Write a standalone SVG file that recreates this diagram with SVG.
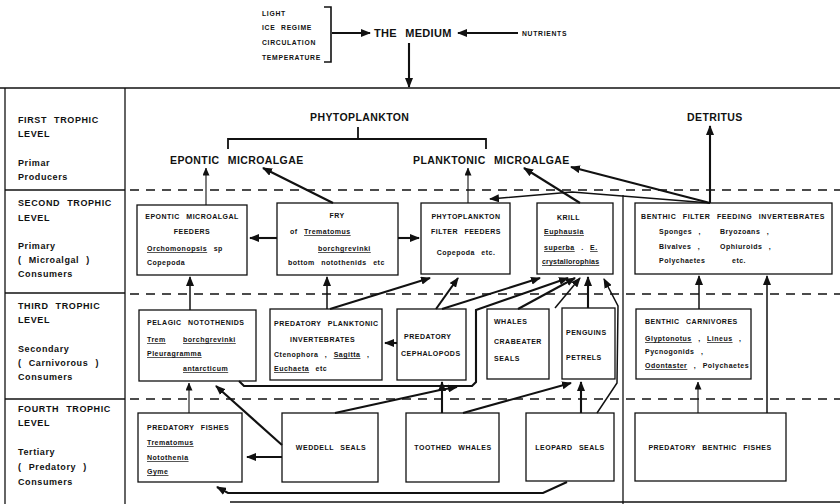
<svg xmlns="http://www.w3.org/2000/svg" width="840" height="504" viewBox="0 0 840 504">
<style>
text{font-family:"Liberation Sans",Arial,sans-serif;font-weight:bold;fill:#111}
.lv{font-size:9px;letter-spacing:0.6px;word-spacing:4px}
.bx{font-size:7px;letter-spacing:0.5px;word-spacing:4px}
.big{font-size:10.5px;letter-spacing:0.4px;word-spacing:5px}
.sm{font-size:6.8px;letter-spacing:0.7px}
.u{text-decoration:underline}
.c{text-anchor:middle}
rect{fill:#fff;stroke:#111;stroke-width:1.3}
.frame{stroke:#111;stroke-width:1.3;fill:none}
.dash{stroke:#111;stroke-width:1.4;stroke-dasharray:9 7;fill:none}
.t{stroke:#111;stroke-width:2.1;fill:none;marker-end:url(#ah)}
.m{stroke:#111;stroke-width:1.5;fill:none;marker-end:url(#ah)}
.n{stroke:#111;stroke-width:1.1;fill:none;marker-end:url(#ahs)}
.p{stroke:#111;stroke-width:1.6;fill:none}
</style>
<defs>
<marker id="ah" markerUnits="userSpaceOnUse" markerWidth="10" markerHeight="8" refX="9" refY="4" orient="auto"><path d="M0,0 L10,4 L0,8 Z" fill="#111"/></marker>
<marker id="ahs" markerUnits="userSpaceOnUse" markerWidth="8" markerHeight="7" refX="7.5" refY="3.5" orient="auto"><path d="M0,0 L8,3.5 L0,7 Z" fill="#111"/></marker>
</defs>

<g id="frame">
<line class="frame" x1="0" y1="88" x2="840" y2="88"/>
<line class="frame" x1="5" y1="88" x2="5" y2="504"/>
<line class="frame" x1="125" y1="88" x2="125" y2="504"/>
<line class="frame" x1="5" y1="190" x2="125" y2="190"/>
<line class="frame" x1="5" y1="293" x2="125" y2="293"/>
<line class="frame" x1="5" y1="399" x2="125" y2="399"/>
<line class="frame" x1="623" y1="195" x2="623" y2="504"/>
<line class="frame" x1="230" y1="502" x2="840" y2="502"/>
<line class="dash" x1="130" y1="190" x2="840" y2="190"/>
<line class="dash" x1="130" y1="294" x2="840" y2="294"/>
<line class="dash" x1="130" y1="399" x2="840" y2="399"/>
</g>

<g id="levels">
<text class="lv" x="18" y="123">FIRST  TROPHIC</text>
<text class="lv" x="18" y="137">LEVEL</text>
<text class="lv" x="18" y="166">Primar</text>
<text class="lv" x="18" y="180">Producers</text>
<text class="lv" x="18" y="206">SECOND  TROPHIC</text>
<text class="lv" x="18" y="221">LEVEL</text>
<text class="lv" x="18" y="249">Primary</text>
<text class="lv" x="18" y="263">( Microalgal )</text>
<text class="lv" x="18" y="277">Consumers</text>
<text class="lv" x="18" y="309">THIRD  TROPHIC</text>
<text class="lv" x="18" y="323">LEVEL</text>
<text class="lv" x="18" y="352">Secondary</text>
<text class="lv" x="18" y="366">( Carnivorous )</text>
<text class="lv" x="18" y="380">Consumers</text>
<text class="lv" x="18" y="412">FOURTH  TROPHIC</text>
<text class="lv" x="18" y="426">LEVEL</text>
<text class="lv" x="18" y="455">Tertiary</text>
<text class="lv" x="18" y="470">( Predatory )</text>
<text class="lv" x="18" y="485">Consumers</text>
</g>

<g id="medium">
<text class="sm" x="262" y="16">LIGHT</text>
<text class="sm" x="262" y="30" style="word-spacing:3px">ICE  REGIME</text>
<text class="sm" x="262" y="45">CIRCULATION</text>
<text class="sm" x="262" y="60">TEMPERATURE</text>
<text x="374" y="37" style="font-size:11px;letter-spacing:0.3px;word-spacing:5px">THE  MEDIUM</text>
<text class="sm" x="522" y="36">NUTRIENTS</text>
</g>

<g id="producers">
<text class="big" x="310" y="121">PHYTOPLANKTON</text>
<text class="big" x="170" y="164">EPONTIC  MICROALGAE</text>
<text class="big" x="413" y="164">PLANKTONIC  MICROALGAE</text>
<text class="big" x="687" y="121">DETRITUS</text>
</g>

<g id="epontic-feeders">
<rect x="137" y="205" width="110" height="70"/>
<text class="bx c" x="192" y="219">EPONTIC  MICROALGAL</text>
<text class="bx c" x="192" y="234">FEEDERS</text>
<text class="bx" x="147" y="251"><tspan class="u">Orchomonopsis</tspan>   sp</text>
<text class="bx" x="147" y="265">Copepoda</text>
</g>

<g id="fry">
<rect x="277" y="203" width="121" height="72"/>
<text class="bx c" x="337" y="218">FRY</text>
<text class="bx" x="290" y="234">of  <tspan class="u">Trematomus</tspan></text>
<text class="bx u" x="318" y="251">borchgrevinki</text>
<text class="bx" x="288" y="265">bottom  notothenids   etc</text>
</g>

<g id="phyto-filter-feeders">
<rect x="421" y="203" width="89" height="71"/>
<text class="bx c" x="466" y="219">PHYTOPLANKTON</text>
<text class="bx c" x="466" y="234">FILTER  FEEDERS</text>
<text class="bx c" x="466" y="255">Copepoda  etc.</text>
</g>

<g id="krill">
<rect x="537" y="203" width="76" height="71"/>
<text class="bx" x="557" y="220">KRILL</text>
<text class="bx u" x="544" y="234">Euphausia</text>
<text class="bx" x="544" y="250"><tspan class="u">superba</tspan> .  <tspan class="u">E.</tspan></text>
<text class="bx u" x="542" y="264" style="letter-spacing:0.2px">crystallorophias</text>
</g>

<g id="benthic-filter-feeders">
<rect x="635" y="203" width="197" height="71"/>
<text class="bx" x="641" y="219" textLength="184" lengthAdjust="spacing">BENTHIC  FILTER  FEEDING  INVERTEBRATES</text>
<text class="bx" x="659" y="234">Sponges ,</text>
<text class="bx" x="720" y="234">Bryozoans ,</text>
<text class="bx" x="659" y="249">Bivalves ,</text>
<text class="bx" x="720" y="249">Ophiuroids ,</text>
<text class="bx" x="659" y="263">Polychaetes</text>
<text class="bx" x="732" y="263">etc.</text>
</g>

<g id="pelagic-notothenids">
<rect x="139" y="310" width="117" height="71"/>
<text class="bx" x="147" y="325">PELAGIC  NOTOTHENIDS</text>
<text class="bx" x="147" y="342"><tspan class="u">Trem</tspan></text>
<text class="bx u" x="183" y="342">borchgrevinki</text>
<text class="bx u" x="147" y="356">Pleuragramma</text>
<text class="bx u" x="183" y="371">antarcticum</text>
</g>

<g id="predatory-planktonic-invertebrates">
<rect x="270" y="309" width="112" height="71"/>
<text class="bx" x="274" y="326">PREDATORY  PLANKTONIC</text>
<text class="bx" x="290" y="342">INVERTEBRATES</text>
<text class="bx" x="274" y="357">Ctenophora ,  <tspan class="u">Sagitta</tspan> ,</text>
<text class="bx" x="274" y="371"><tspan class="u">Euchaeta</tspan>     etc</text>
</g>

<g id="predatory-cephalopods">
<rect x="397" y="309" width="69" height="71"/>
<text class="bx" x="404" y="339">PREDATORY</text>
<text class="bx" x="401" y="356">CEPHALOPODS</text>
</g>

<g id="whales-crabeater">
<rect x="487" y="309" width="62" height="70"/>
<text class="bx" x="494" y="324">WHALES</text>
<text class="bx" x="494" y="344">CRABEATER</text>
<text class="bx" x="494" y="361">SEALS</text>
</g>

<g id="penguins-petrels">
<rect x="562" y="308" width="53" height="71"/>
<text class="bx" x="566" y="335">PENGUINS</text>
<text class="bx" x="566" y="360">PETRELS</text>
</g>

<g id="benthic-carnivores">
<rect x="636" y="309" width="115" height="70"/>
<text class="bx" x="645" y="324">BENTHIC  CARNIVORES</text>
<text class="bx" x="645" y="341"><tspan class="u">Glyptonotus</tspan> ,</text>
<text class="bx" x="707" y="341"><tspan class="u">Lineus</tspan> ,</text>
<text class="bx" x="645" y="354">Pycnogonids ,</text>
<text class="bx" x="645" y="368"><tspan class="u">Odontaster</tspan> ,  Polychaetes</text>
</g>

<g id="predatory-fishes">
<rect x="138" y="413" width="104" height="69"/>
<text class="bx" x="147" y="430">PREDATORY  FISHES</text>
<text class="bx u" x="147" y="445">Trematomus</text>
<text class="bx u" x="147" y="460">Notothenia</text>
<text class="bx u" x="147" y="474">Gyme</text>
</g>

<g id="weddell-seals">
<rect x="282" y="413" width="96" height="69"/>
<text class="bx c" x="331" y="450">WEDDELL  SEALS</text>
</g>

<g id="toothed-whales">
<rect x="406" y="413" width="93" height="69"/>
<text class="bx c" x="453" y="450">TOOTHED WHALES</text>
</g>

<g id="leopard-seals">
<rect x="526" y="413" width="88" height="68"/>
<text class="bx c" x="570" y="450">LEOPARD  SEALS</text>
</g>

<g id="predatory-benthic-fishes">
<rect x="635" y="413" width="151" height="68"/>
<text class="bx c" x="710" y="450">PREDATORY  BENTHIC  FISHES</text>
</g>

<g id="connectors">
<path class="p" d="M324,7 H331 V62 H324"/>
<path class="t" d="M332,33 H370"/>
<path class="t" d="M518,33 H458"/>
<path class="t" d="M409,43 V87"/>
<path class="p" d="M228,149 V139 H486 V149 M358,139 V127" style="stroke-width:1.8"/>
<path class="n" d="M206,205 V168"/>
<path class="t" d="M333,203 L263,168"/>
<path class="n" d="M468,203 V168"/>
<path class="t" d="M580,203 L524,168"/>
<path class="t" d="M710,203 L571,167"/>
<path class="t" d="M710,203 V126"/>
<path class="m" d="M710,203 L572,192 L490,199"/>
<path class="t" d="M277,238 H250"/>
<path class="t" d="M398,238 H419"/>
<path class="m" d="M190,310 V277"/>
<path class="m" d="M327,309 V277"/>
<path class="t" d="M330,309 L430,278"/>
<path class="t" d="M436,309 L458,278"/>
<path class="t" d="M442,309 L540,278"/>
<path class="t" d="M239,381 L244,386 H472 L476,382 V310 L568,278"/>
<path class="t" d="M518,309 L575,278"/>
<path class="m" d="M555,308 L580,278"/>
<path class="t" d="M588,308 V277"/>
<path class="m" d="M597,413 L617,383 L618,306 L604,279"/>
<path class="t" d="M397,343 H385"/>
<path class="m" d="M699,309 V276"/>
<path class="m" d="M767,413 V276"/>
<path class="n" d="M698,413 V382"/>
<path class="n" d="M189,413 V383"/>
<path class="t" d="M282,457 H247"/>
<path class="t" d="M282,445 L216,386"/>
<path class="t" d="M335,413 L440,390 L457,387"/>
<path class="t" d="M442,413 V382"/>
<path class="t" d="M463,413 L571,383"/>
<path class="t" d="M581,413 V382"/>
<path class="t" d="M567,482 L543,493 H228 L217,487"/>
</g>
</svg>
